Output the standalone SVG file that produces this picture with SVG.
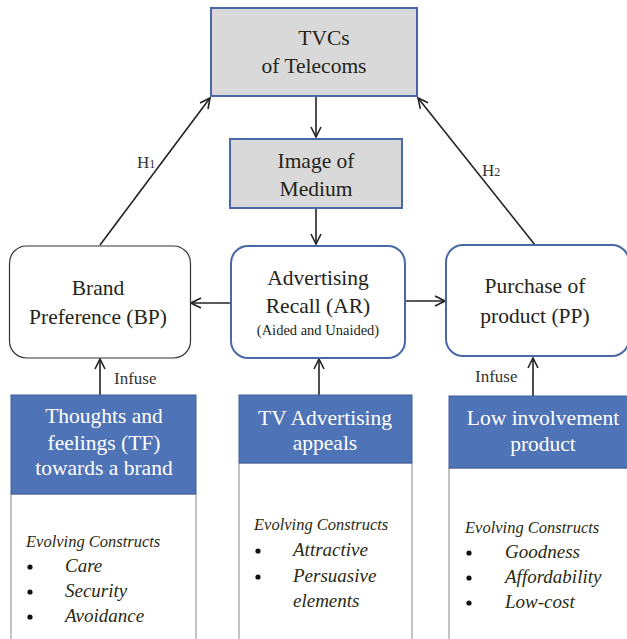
<svg xmlns="http://www.w3.org/2000/svg" width="627" height="639" viewBox="0 0 627 639" font-family="Liberation Serif">
<defs>
<marker id="arr" viewBox="0 0 12 12" refX="11" refY="6" markerWidth="12" markerHeight="12" markerUnits="userSpaceOnUse" orient="auto">
<path d="M1,1 L11,6 L1,11" fill="none" stroke="#222" stroke-width="1.6"/>
</marker>
<style>
.t{font-size:21.5px;fill:#24241a;text-anchor:middle}
.w{font-size:21.5px;fill:#ffffff;text-anchor:middle}
.i{font-style:italic;fill:#2a2a12}
.ec{font-size:16.5px}
.it{font-size:19px}
.s{font-size:17px;fill:#333}
.gray{fill:#d9d9d9;stroke:#4a68a8;stroke-width:2}
.rb{fill:#fff;stroke:#4a68a8;stroke-width:2}
.rk{fill:#fff;stroke:#333;stroke-width:1.2}
.blue{fill:#4f73b7;stroke:#41609c;stroke-width:1}
.wb{fill:#fff;stroke:#b0b0b0;stroke-width:1.5}
.dot{fill:#111}
.c{stroke:#222;stroke-width:1.6;fill:none;marker-end:url(#arr)}
</style>
</defs>
<rect width="627" height="639" fill="#fff"/>
<g id="connectors">
<line class="c" x1="316" y1="97" x2="316" y2="137"/>
<line class="c" x1="316" y1="208" x2="316" y2="244"/>
<line class="c" x1="100" y1="245" x2="210" y2="98"/>
<line class="c" x1="535" y1="245" x2="418" y2="98"/>
<line class="c" x1="230" y1="303" x2="191" y2="303"/>
<line class="c" x1="405" y1="301" x2="445" y2="301"/>
<line class="c" x1="100" y1="395" x2="100" y2="359"/>
<line class="c" x1="319" y1="395" x2="319" y2="359"/>
<line class="c" x1="533" y1="396" x2="533" y2="358"/>
<text class="s" x="137" y="168">H<tspan font-size="12">1</tspan></text>
<text class="s" x="482" y="176">H<tspan font-size="12">2</tspan></text>
<text class="s" x="114" y="384">Infuse</text>
<text class="s" x="475" y="382">Infuse</text>
</g>
<g id="tvcs">
<rect class="gray" x="211" y="8" width="206" height="88"/>
<text class="t" x="324" y="45">TVCs</text>
<text class="t" x="314" y="73">of Telecoms</text>
</g>
<g id="image-of-medium">
<rect class="gray" x="230" y="139" width="172" height="69"/>
<text class="t" x="316" y="168">Image of</text>
<text class="t" x="316" y="196">Medium</text>
</g>
<g id="brand-preference">
<rect class="rk" x="9.5" y="246" width="181" height="112" rx="17"/>
<text class="t" x="98" y="295">Brand</text>
<text class="t" x="98" y="324">Preference (BP)</text>
</g>
<g id="advertising-recall">
<rect class="rb" x="231" y="246" width="174" height="112" rx="17"/>
<text class="t" x="318" y="285">Advertising</text>
<text class="t" x="318" y="313">Recall (AR)</text>
<text class="t" x="318" y="335" style="font-size:14.5px">(Aided and Unaided)</text>
</g>
<g id="purchase-of-product">
<rect class="rb" x="446" y="245" width="183" height="111" rx="17"/>
<text class="t" x="535" y="293">Purchase of</text>
<text class="t" x="535" y="323">product (PP)</text>
</g>
<g id="thoughts-feelings">
<rect class="wb" x="11" y="494" width="185" height="150"/>
<rect class="blue" x="11" y="395" width="185" height="99"/>
<text class="w" x="104" y="423">Thoughts and</text>
<text class="w" x="104" y="450">feelings (TF)</text>
<text class="w" x="104" y="475">towards a brand</text>
<text class="i ec" x="26" y="547">Evolving Constructs</text>
<circle class="dot" cx="30" cy="567" r="2.6"/>
<circle class="dot" cx="30" cy="592" r="2.6"/>
<circle class="dot" cx="30" cy="617" r="2.6"/>
<text class="i it" x="65" y="572">Care</text>
<text class="i it" x="65" y="597">Security</text>
<text class="i it" x="65" y="622">Avoidance</text>
</g>
<g id="tv-advertising-appeals">
<rect class="wb" x="239" y="463" width="173" height="181"/>
<rect class="blue" x="239" y="395" width="173" height="68"/>
<text class="w" x="325" y="425">TV Advertising</text>
<text class="w" x="325" y="450">appeals</text>
<text class="i ec" x="254" y="530">Evolving Constructs</text>
<circle class="dot" cx="258" cy="551" r="2.6"/>
<circle class="dot" cx="258" cy="577" r="2.6"/>
<text class="i it" x="293" y="556">Attractive</text>
<text class="i it" x="293" y="582">Persuasive</text>
<text class="i it" x="293" y="607">elements</text>
</g>
<g id="low-involvement-product">
<rect class="wb" x="449" y="468" width="182" height="176"/>
<rect class="blue" x="449" y="396" width="182" height="72"/>
<text class="w" x="543" y="425">Low involvement</text>
<text class="w" x="543" y="451">product</text>
<text class="i ec" x="465" y="533">Evolving Constructs</text>
<circle class="dot" cx="469" cy="553" r="2.6"/>
<circle class="dot" cx="469" cy="578" r="2.6"/>
<circle class="dot" cx="469" cy="603" r="2.6"/>
<text class="i it" x="505" y="558">Goodness</text>
<text class="i it" x="505" y="583">Affordability</text>
<text class="i it" x="505" y="608">Low-cost</text>
</g>
</svg>
